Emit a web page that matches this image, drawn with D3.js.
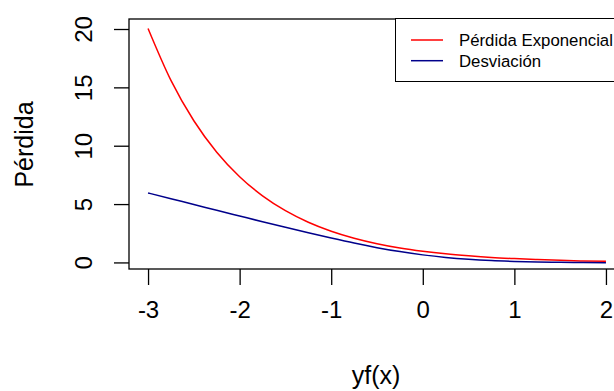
<!DOCTYPE html>
<html>
<head>
<meta charset="utf-8">
<script src="https://cdn.jsdelivr.net/npm/d3@7"></script>
<style>
  body { margin: 0; background: #fff; }
  svg text { font-family: "Liberation Sans", Arial, sans-serif; fill: #000; }
</style>
</head>
<body>
<svg id="chart" width="614" height="391"></svg>
<script>
// values
const xValues = [-3, -2.75, -2.5, -2.25, -2, -1.75, -1.5, -1.25, -1, -0.75, -0.5, -0.25,
                 0, 0.25, 0.5, 0.75, 1, 1.25, 1.5, 1.75, 2];
const expLoss = [20.09, 15.64, 12.18, 9.49, 7.39, 5.75, 4.48, 3.49, 2.72, 2.12, 1.65, 1.28,
                 1.00, 0.78, 0.61, 0.47, 0.37, 0.29, 0.22, 0.17, 0.14];
const deviance = [6.00, 5.50, 5.01, 4.51, 4.02, 3.53, 3.05, 2.58, 2.13, 1.70, 1.31, 0.97,
                  0.69, 0.47, 0.31, 0.20, 0.13, 0.08, 0.05, 0.03, 0.02];
const xTicks = [-3, -2, -1, 0, 1, 2];
const yTicks = [0, 5, 10, 15, 20];
const seriesNames = ["Pérdida Exponencial", "Desviación"];
const seriesColors = ["#ff0000", "#00008b"];

const svg = d3.select("svg#chart");

// plot region
const plotLeft = 129, plotTop = 19, plotBottom = 269, plotRight = 625;
const x = d3.scaleLinear().domain([-3.208, 2.208]).range([plotLeft, plotRight]);
const y = d3.scaleLinear().domain([-0.52, 20.9]).range([plotBottom, plotTop]);

// series
const series = [expLoss, deviance];
const line = d3.line()
    .x((d, i) => x(xValues[i]))
    .y(d => y(d))
    .curve(d3.curveMonotoneX);

svg.append("g")
    .selectAll("path")
    .data(series)
    .enter()
    .append("path")
    .attr("d", line)
    .attr("fill", "none")
    .attr("stroke", (d, i) => seriesColors[i])
    .attr("stroke-width", 1.5);

// box
svg.append("rect")
    .attr("x", plotLeft).attr("y", plotTop)
    .attr("width", plotRight - plotLeft).attr("height", plotBottom - plotTop)
    .attr("fill", "none").attr("stroke", "#000").attr("stroke-width", 1.3);

// x axis (plain hyphen minus, like R)
const xAxis = svg.append("g")
    .attr("transform", `translate(0,${plotBottom})`)
    .call(d3.axisBottom(x).tickValues(xTicks).tickSize(16).tickPadding(16).tickFormat(d => String(d)));
xAxis.select(".domain").remove();
xAxis.selectAll("line").attr("stroke-width", 1.3);
xAxis.selectAll("text").attr("font-size", 24).attr("fill", "#000");

// y axis, labels turned like R's las=0
const yAxis = svg.append("g")
    .attr("transform", `translate(${plotLeft},0)`)
    .call(d3.axisLeft(y).tickValues(yTicks).tickSize(15).tickFormat(d => String(d)));
yAxis.select(".domain").remove();
yAxis.selectAll("line").attr("stroke-width", 1.3);
yAxis.selectAll(".tick").attr("transform", null);
yAxis.selectAll(".tick line").attr("y1", d => y(d)).attr("y2", d => y(d));
yAxis.selectAll("text")
    .attr("font-size", 24)
    .attr("fill", "#000")
    .attr("x", null).attr("dy", null)
    .attr("text-anchor", "middle")
    .attr("transform", d => `translate(${91.5 - plotLeft},${y(d)}) rotate(-90)`);

// axis titles
svg.append("text")
    .attr("x", 376).attr("y", 384)
    .attr("text-anchor", "middle")
    .attr("font-size", 25)
    .text("yf(x)");

svg.append("text")
    .attr("transform", "translate(33,144.5) rotate(-90)")
    .attr("text-anchor", "middle")
    .attr("font-size", 25)
    .text("Pérdida");

// legend
const legend = svg.append("g");
legend.append("rect")
    .attr("x", 395.5).attr("y", 18.5)
    .attr("width", 240).attr("height", 63)
    .attr("fill", "#fff").attr("stroke", "#000").attr("stroke-width", 1);

const items = legend.selectAll("g.item")
    .data(seriesNames)
    .enter()
    .append("g")
    .attr("class", "item")
    .attr("transform", (d, i) => `translate(0,${40 + i * 20.7})`);
items.append("line")
    .attr("x1", 411).attr("x2", 443)
    .attr("stroke", (d, i) => seriesColors[i])
    .attr("stroke-width", 1.5);
items.append("text")
    .attr("x", 459)
    .attr("dy", "0.35em")
    .attr("font-size", 16.8)
    .text(d => d);
</script>
</body>
</html>
